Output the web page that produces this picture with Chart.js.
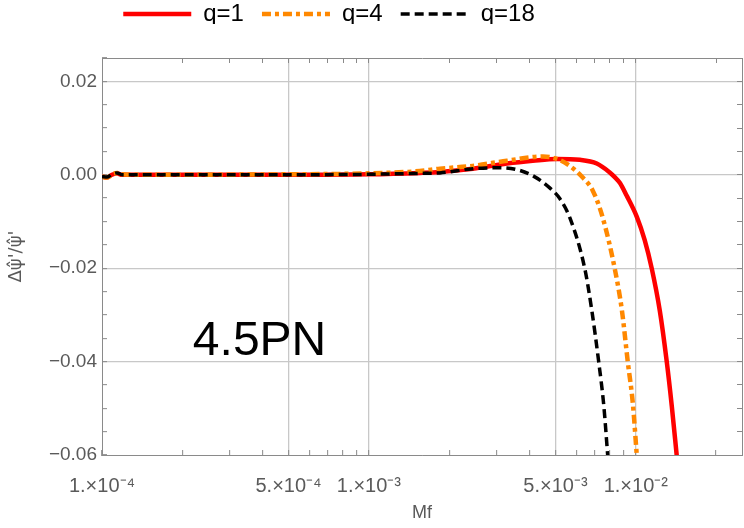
<!DOCTYPE html>
<html>
<head>
<meta charset="utf-8">
<script src="https://cdn.jsdelivr.net/npm/chart.js@4"></script>
<style>
  html, body { margin: 0; padding: 0; background: #fff; }
  #wrap { width: 744px; height: 528px; }
</style>
</head>
<body>
<div id="wrap"><canvas id="pnChart" width="744" height="528"></canvas></div>
<script>
// Data: Mf vs relative phase-derivative error
const seriesLabels = ['q=1', 'q=4', 'q=18'];

const mfQ1 = [1.0e-4, 1.044e-4, 1.09e-4, 1.138e-4, 1.188e-4, 1.33e-4, 2.0e-4, 5.0e-4, 1.0e-3, 1.55e-3,
  1.845e-3, 2.45e-3, 3.29e-3, 4.11e-3, 5.06e-3, 6.17e-3, 7.14e-3, 7.99e-3, 8.34e-3, 8.71e-3,
  9.25e-3, 1.009e-2, 1.08e-2, 1.148e-2, 1.23e-2, 1.306e-2, 1.364e-2, 1.424e-2];
const dQ1 = [-0.0004, -0.0006, 0.0, 0.0003, 0.0, 0.0, 0.0, 0.0, 0.0001, 0.0004,
  0.0006, 0.0013, 0.0024, 0.0030, 0.0034, 0.0032, 0.0024, 0.0005, -0.0005, -0.0017,
  -0.0045, -0.0090, -0.0140, -0.0201, -0.0291, -0.0400, -0.0495, -0.0602];

const mfQ4 = [1.0e-4, 1.044e-4, 1.09e-4, 1.138e-4, 1.188e-4, 1.33e-4, 2.0e-4, 5.0e-4, 1.0e-3, 1.55e-3,
  1.845e-3, 2.45e-3, 3.29e-3, 4.49e-3, 5.06e-3, 5.66e-3, 6.33e-3, 6.90e-3, 7.52e-3, 8.34e-3,
  8.87e-3, 9.33e-3, 9.75e-3, 1.009e-2];
const dQ4 = [-0.0004, -0.0006, 0.0001, 0.0004, 0.0001, 0.0, 0.0, 0.0001, 0.0003, 0.0008,
  0.0013, 0.0019, 0.0030, 0.0039, 0.0034, 0.0019, -0.0006, -0.0034, -0.0092, -0.0201,
  -0.0290, -0.0400, -0.0490, -0.0602];

const mfQ18 = [1.0e-4, 1.044e-4, 1.09e-4, 1.138e-4, 1.188e-4, 1.33e-4, 2.0e-4, 5.0e-4, 1.0e-3, 1.55e-3,
  1.845e-3, 2.45e-3, 3.09e-3, 3.58e-3, 4.11e-3, 4.76e-3, 5.19e-3, 5.66e-3, 6.44e-3, 6.84e-3,
  7.26e-3, 7.59e-3, 7.85e-3];
const dQ18 = [-0.0004, -0.0005, 0.0001, 0.0004, 0.0, 0.0, 0.0, 0.0, 0.0001, 0.0003,
  0.0004, 0.0013, 0.0015, 0.0011, -0.0002, -0.0028, -0.0051, -0.0092, -0.0201, -0.0290,
  -0.0400, -0.0495, -0.0602];

// axis ticks
const xTicks = [1e-4, 2e-4, 3e-4, 4e-4, 5e-4, 6e-4, 7e-4, 8e-4, 9e-4,
  1e-3, 2e-3, 3e-3, 4e-3, 5e-3, 6e-3, 7e-3, 8e-3, 9e-3, 1e-2, 2e-2];
const xLabelValues = [1e-4, 5e-4, 1e-3, 5e-3, 1e-2];
const xLabelTexts = ['1.×10⁻⁴', '5.×10⁻⁴', '1.×10⁻³', '5.×10⁻³', '1.×10⁻²'];
const xGridValues = [5e-4, 1e-3, 5e-3, 1e-2];

const yTicks = [-0.06, -0.055, -0.05, -0.045, -0.04, -0.035, -0.03, -0.025, -0.02,
  -0.015, -0.01, -0.005, 0, 0.005, 0.01, 0.015, 0.02, 0.025];
const yLabelValues = [0.02, 0, -0.02, -0.04, -0.06];
const yLabelTexts = ['0.02', '0.00', '−0.02', '−0.04', '−0.06'];
const yGridValues = [0.02, 0, -0.02, -0.04];

const pnText = '4.5PN';
const pnAt = [2.19e-4, -0.0385];

const frameColor = '#8a8a8a';
const gridColor = '#c8c8c8';
const labelColor = '#5a5a5a';

function findVal(list, v) {
  return list.findIndex(t => Math.abs(t - v) <= Math.abs(t) * 1e-6 + 1e-12);
}
function pts(xs, ys) {
  return xs.map((x, i) => ({ x: x, y: ys[i] }));
}

Chart.defaults.font.family = '"Liberation Sans", Arial, sans-serif';

const pnLabel = {
  id: 'pnLabel',
  afterDraw(chart) {
    const { ctx, scales } = chart;
    ctx.save();
    ctx.font = '48px "Liberation Sans", Arial, sans-serif';
    ctx.fillStyle = '#000';
    ctx.textAlign = 'left';
    ctx.textBaseline = 'alphabetic';
    ctx.fillText(pnText, scales.x.getPixelForValue(pnAt[0]), scales.y.getPixelForValue(pnAt[1]));
    ctx.restore();
  }
};

// move the legend row to where the figure has it
const legendShift = {
  id: 'legendShift',
  afterLayout(chart) {
    const l = chart.legend;
    l.left -= 42; l.right -= 42;
    l.top -= 16; l.bottom -= 16;
  }
};

const frameGrid = {
  drawOnChartArea: false,
  tickLength: -5,
  tickColor: frameColor,
  tickWidth: 1
};

const config = {
  type: 'line',
  data: {
    datasets: [
      {
        label: seriesLabels[0],
        data: pts(mfQ1, dQ1),
        borderColor: '#ff0000',
        borderWidth: 4.5,
        borderDash: [],
        order: 3
      },
      {
        label: seriesLabels[1],
        data: pts(mfQ4, dQ4),
        borderColor: '#ff8800',
        borderWidth: 4.5,
        borderDash: [9, 4, 4, 4],
        order: 2
      },
      {
        label: seriesLabels[2],
        data: pts(mfQ18, dQ18),
        borderColor: '#000000',
        borderWidth: 3.5,
        borderDash: [9, 5],
        order: 1
      }
    ]
  },
  options: {
    responsive: false,
    animation: false,
    layout: { padding: { left: 0, right: 2, top: 0, bottom: 0 } },
    elements: {
      point: { radius: 0 },
      line: { fill: false, cubicInterpolationMode: 'monotone', borderCapStyle: 'butt' }
    },
    plugins: {
      tooltip: { enabled: false },
      legend: {
        position: 'top',
        align: 'center',
        maxHeight: 40,
        labels: {
          usePointStyle: true,
          pointStyle: 'line',
          pointStyleWidth: 68,
          padding: 18,
          color: '#000',
          font: { size: 24 },
          generateLabels: chart => chart.data.datasets.map((d, i) => ({
            text: d.label,
            strokeStyle: d.borderColor,
            fillStyle: d.borderColor,
            lineWidth: d.borderWidth,
            lineDash: d.borderDash,
            lineCap: 'butt',
            pointStyle: 'line',
            fontColor: '#000',
            hidden: false,
            datasetIndex: i
          }))
        }
      }
    },
    scales: {
      x: {
        type: 'logarithmic',
        position: 'bottom',
        min: 1e-4,
        max: 0.025,
        afterBuildTicks: s => { s.ticks = xTicks.map(v => ({ value: v })); },
        afterFit: s => { s.height = 73; },
        border: { display: true, color: frameColor, width: 1 },
        grid: {
          color: c => (c.tick && findVal(xGridValues, c.tick.value) >= 0) ? gridColor : 'rgba(0,0,0,0)',
          lineWidth: 1.3,
          tickLength: -5,
          tickColor: frameColor,
          tickWidth: 1
        },
        ticks: {
          autoSkip: false,
          maxRotation: 0,
          padding: 24,
          color: labelColor,
          font: { size: 20 },
          callback: v => { const i = findVal(xLabelValues, v); return i >= 0 ? xLabelTexts[i] : ''; }
        },
        title: {
          display: true,
          text: 'Mf',
          color: labelColor,
          font: { size: 18 },
          padding: { top: 0, bottom: 4 }
        }
      },
      x2: {
        type: 'logarithmic',
        position: 'top',
        min: 1e-4,
        max: 0.025,
        afterBuildTicks: s => { s.ticks = xTicks.map(v => ({ value: v })); },
        afterFit: s => { s.height = Math.max(0, 58 - s.chart.legend.height); },
        border: { display: true, color: frameColor, width: 1 },
        grid: frameGrid,
        ticks: { display: false }
      },
      y: {
        type: 'linear',
        position: 'left',
        min: -0.06,
        max: 0.025,
        afterBuildTicks: s => { s.ticks = yTicks.map(v => ({ value: v })); },
        afterFit: s => { s.width = 102; },
        border: { display: true, color: frameColor, width: 1 },
        grid: {
          color: c => (c.tick && findVal(yGridValues, c.tick.value) >= 0) ? gridColor : 'rgba(0,0,0,0)',
          lineWidth: 1.3,
          tickLength: -5,
          tickColor: frameColor,
          tickWidth: 1
        },
        ticks: {
          autoSkip: false,
          padding: 10,
          color: labelColor,
          font: { size: 19 },
          callback: v => { const i = findVal(yLabelValues, v); return i >= 0 ? yLabelTexts[i] : ''; }
        },
        title: {
          display: true,
          text: "Δψ̂'/ψ̂'",
          color: labelColor,
          font: { size: 18, family: '"DejaVu Sans", sans-serif' },
          padding: { top: 6, bottom: 0 }
        }
      },
      y2: {
        type: 'linear',
        position: 'right',
        min: -0.06,
        max: 0.025,
        afterBuildTicks: s => { s.ticks = yTicks.map(v => ({ value: v })); },
        afterFit: s => { s.width = 0; },
        border: { display: true, color: frameColor, width: 1 },
        grid: frameGrid,
        ticks: { display: false }
      }
    }
  },
  plugins: [pnLabel, legendShift]
};

const ctx = document.getElementById('pnChart').getContext('2d');
new Chart(ctx, config);
</script>
</body>
</html>
